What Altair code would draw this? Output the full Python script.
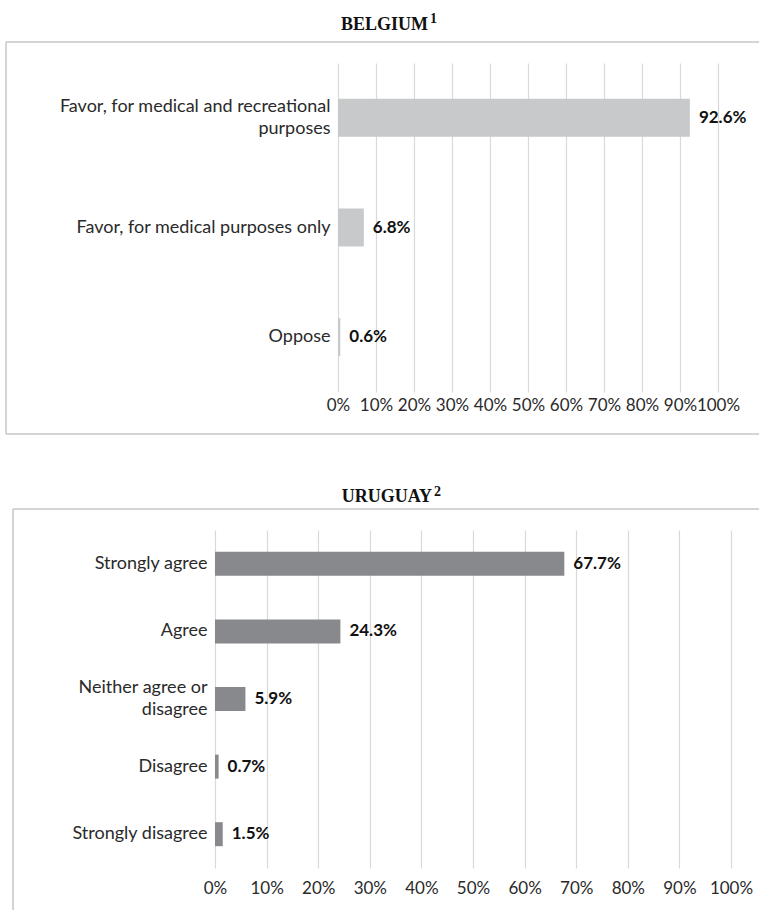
import altair as alt
import pandas as pd

# Belgium: support for cannabis legalisation
bel_cats = ["Favor, for medical and recreational|purposes",
            "Favor, for medical purposes only",
            "Oppose"]
bel_vals = [92.6, 6.8, 0.6]

# Uruguay: agreement with the regulation
uru_cats = ["Strongly agree", "Agree", "Neither agree or|disagree",
            "Disagree", "Strongly disagree"]
uru_vals = [67.7, 24.3, 5.9, 0.7, 1.5]

x_ticks = list(range(0, 101, 10))

SANS = "Lato"
SERIF = "Liberation Serif"
TEXT = "#2a2a2a"
GRID = "#d9d9d9"
FRAME = "#c6c6c6"
FULL_W = 760
LINE_H = 22

one = pd.DataFrame({"k": [0]})


def rule(**enc):
    return alt.Chart(one).mark_rule(color=FRAME, strokeWidth=1.5).encode(**enc)


def spacer(**enc):
    return alt.Chart(one).mark_rule(strokeOpacity=0, strokeWidth=0).encode(**enc)


def panel(cats, vals, color, height, x_range, pad_inner, x_label_pad,
          title, sup, title_x, title_y, sup_y, frame):
    df = pd.DataFrame({"cat": cats, "val": vals,
                       "label": [f"{v:.1f}%" for v in vals]})
    # two-line category labels are lifted by half a line so the block sits centred
    y_axis = alt.Axis(labelExpr="split(datum.label, '|')", labelAlign="right",
                      labelBaseline="middle", labelPadding=8, ticks=False,
                      domain=False, grid=False, labelFont=SANS, labelFontSize=18,
                      labelColor=TEXT, labelLineHeight=LINE_H, labelLimit=500,
                      labelOffset={"condition": {"test": "indexof(datum.value, '|') >= 0",
                                                 "value": -LINE_H / 2},
                                   "value": 0},
                      offset=-x_range[0])
    x_axis = alt.Axis(values=x_ticks, labelExpr="datum.value + '%'", grid=True,
                      gridColor=GRID, gridWidth=1.2, ticks=False, domain=False,
                      labelFlush=False, labelOverlap=False, tickCount=11,
                      labelPadding=x_label_pad, labelFont=SANS, labelFontSize=17,
                      labelColor=TEXT)
    x_scale = alt.Scale(domain=[0, 100], range=x_range)
    y_scale = alt.Scale(paddingInner=pad_inner, paddingOuter=pad_inner / 2)
    y = alt.Y("cat:N", sort=cats, title=None, scale=y_scale, axis=y_axis)
    x = alt.X("val:Q", title=None, scale=x_scale, axis=x_axis)

    base = alt.Chart(df)
    bars = base.mark_bar(color=color).encode(x=x, y=y)
    values = base.mark_text(align="left", baseline="middle", dx=9, font=SANS,
                            fontSize=17, fontWeight="bold", color="#111111").encode(
        x=x, y=y, text="label:N")

    head = alt.Chart(one).mark_text(text=title, align="right", baseline="alphabetic",
                                    font=SERIF, fontSize=18, fontWeight="bold",
                                    color="#111111").encode(
        x=alt.value(title_x), y=alt.value(title_y))
    head_sup = alt.Chart(one).mark_text(text=sup, align="left", baseline="alphabetic",
                                        font=SERIF, fontSize=14, fontWeight="bold",
                                        color="#111111").encode(
        x=alt.value(title_x + 2), y=alt.value(sup_y))

    left, top, bottom, close_bottom, sp_top, sp_bottom = frame
    layers = [
        spacer(x=alt.value(0), y=alt.value(sp_top), y2=alt.value(sp_bottom)),
        rule(x=alt.value(left), x2=alt.value(FULL_W - 1), y=alt.value(top)),
        rule(x=alt.value(left), y=alt.value(top), y2=alt.value(bottom)),
    ]
    if close_bottom:
        layers.append(rule(x=alt.value(left), x2=alt.value(FULL_W - 1),
                           y=alt.value(bottom)))
    layers += [bars, values, head, head_sup]
    return alt.layer(*layers).properties(width=FULL_W, height=height)


belgium = panel(bel_cats, bel_vals, "#c8c9cb", 329, [338, 718], 0.654, 5,
                "BELGIUM", "1", 428, -33, -40,
                (6, -21, 371, True, -63, 407))

uruguay = panel(uru_cats, uru_vals, "#88898d", 338, [215, 731], 0.645, 12,
                "URUGUAY", "2", 432, -28, -34,
                (13, -21, 380, False, -60, 380))

chart = alt.vconcat(belgium, uruguay, spacing=0).properties(
    padding=0, background="white"
).configure_view(stroke=None)

chart.save("out.html", embed_options={"renderer": "svg", "actions": False})
